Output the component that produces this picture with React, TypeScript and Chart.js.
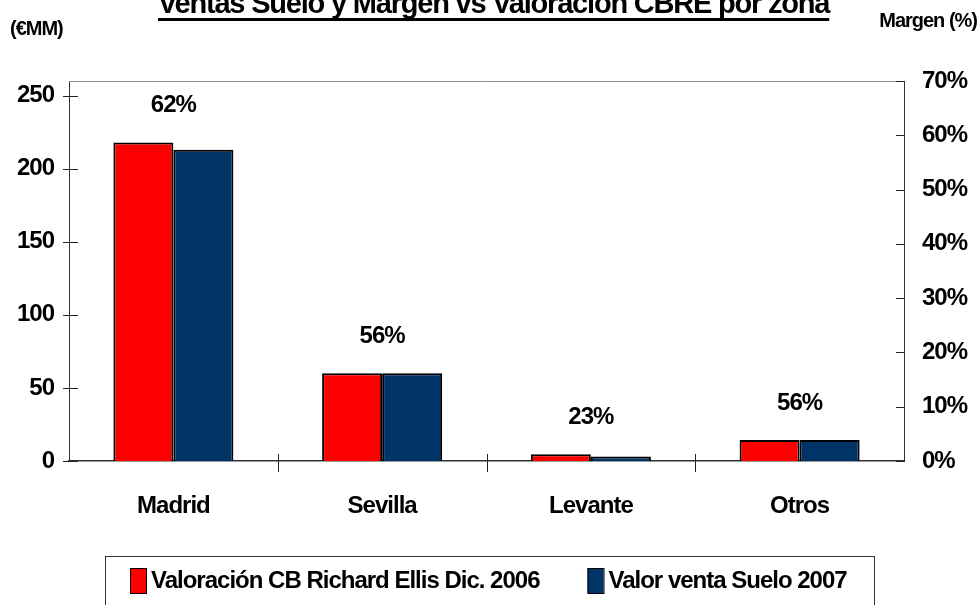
import React, { useEffect, useRef } from 'react';
import { Chart, registerables } from 'chart.js';

Chart.register(...registerables);

// ---- data ----
const categories = ['Madrid', 'Sevilla', 'Levante', 'Otros'];
const valoracionCBRE2006 = [218, 60, 4.7, 14.3];
const valorVentaSuelo2007 = [213, 60, 3.1, 14.3];
const margenPct = [62, 56, 23, 56];
const seriesLabels = ['Valoración CB Richard Ellis Dic. 2006', 'Valor venta Suelo 2007'];
const seriesColors = ['#FF0000', '#003366'];
const leftAxisMax = 260;
const leftAxisStep = 50;
const rightAxisMax = 70;
const rightAxisStep = 10;
const titleText = 'Ventas Suelo y Margen vs Valoración CBRE por zona';
const leftAxisTitle = '(€MM)';
const rightAxisTitle = 'Margen (%)';

const FONT = '"Liberation Sans", Arial, sans-serif';

const spacingPlugin = {
  id: 'spacing',
  beforeUpdate(chart: any) {
    chart.ctx.letterSpacing = '-1px';
  },
  beforeDraw(chart: any) {
    chart.ctx.letterSpacing = '-1px';
  },
};

const decorPlugin = {
  id: 'decor',
  afterDraw(chart: any) {
    const ctx = chart.ctx as CanvasRenderingContext2D;
    const { left, right, top, bottom } = chart.chartArea;
    const xs = chart.scales.x;
    const yL = chart.scales.y;
    const yR = chart.scales.y1;
    const line = (x1: number, y1: number, x2: number, y2: number) => {
      ctx.beginPath();
      ctx.moveTo(x1, y1);
      ctx.lineTo(x2, y2);
      ctx.stroke();
    };
    ctx.save();
    (ctx as any).letterSpacing = '-1px';

    // plot area top border
    ctx.strokeStyle = '#8c8c8c';
    ctx.lineWidth = 1;
    line(left, Math.round(top) + 0.5, right, Math.round(top) + 0.5);

    // axis tick marks
    ctx.strokeStyle = '#222';
    ctx.lineWidth = 1;
    yL.ticks.forEach((t: any) => {
      const py = Math.round(yL.getPixelForValue(t.value)) + 0.5;
      line(left - 6, py, left + 9, py);
    });
    yR.ticks.forEach((t: any) => {
      const py = Math.round(yR.getPixelForValue(t.value)) + 0.5;
      line(right - 8, py, right + 1, py);
    });
    for (let i = 1; i < categories.length; i++) {
      const px = Math.round((xs.getPixelForValue(i - 1) + xs.getPixelForValue(i)) / 2) + 0.5;
      line(px, bottom - 7, px, bottom + 11);
    }

    // margin labels above each group
    ctx.fillStyle = '#000';
    ctx.font = `bold 24px ${FONT}`;
    ctx.textAlign = 'center';
    ctx.textBaseline = 'alphabetic';
    categories.forEach((_, i) => {
      const topVal = Math.max(valoracionCBRE2006[i], valorVentaSuelo2007[i]);
      const px = xs.getPixelForValue(i);
      const py = yL.getPixelForValue(topVal) - 30;
      ctx.fillText(`${margenPct[i]}%`, px, py);
    });

    // title
    ctx.textAlign = 'left';
    ctx.font = `bold 29px ${FONT}`;
    (ctx as any).letterSpacing = '-1.2px';
    ctx.fillText(titleText, 158, 13);
    const tw = ctx.measureText(titleText).width;
    ctx.fillRect(158, 18, tw, 3);

    // axis titles
    (ctx as any).letterSpacing = '-1px';
    ctx.font = `bold 20px ${FONT}`;
    ctx.fillText(leftAxisTitle, 10, 35);
    ctx.textAlign = 'right';
    ctx.fillText(rightAxisTitle, 977, 27);

    // legend
    ctx.strokeStyle = '#333';
    ctx.lineWidth = 1;
    ctx.strokeRect(105.5, 556.5, 769, 70);
    ctx.font = `bold 24px ${FONT}`;
    ctx.textAlign = 'left';
    let lx = 130;
    chart.data.datasets.forEach((ds: any) => {
      ctx.fillStyle = ds.backgroundColor;
      ctx.fillRect(lx, 568, 16, 25);
      ctx.strokeStyle = '#000';
      ctx.strokeRect(lx + 0.5, 568.5, 16, 25);
      ctx.fillStyle = '#000';
      ctx.fillText(ds.label, lx + 21, 588);
      lx += 21 + ctx.measureText(ds.label).width + 48;
    });
    ctx.restore();
  },
};

export default function App() {
  const ref = useRef<HTMLCanvasElement>(null);
  useEffect(() => {
    if (!ref.current) return;
    const tickFont = { family: FONT, size: 24, weight: 'bold' as const };
    const chart = new Chart(ref.current, {
      type: 'bar',
      data: {
        labels: categories,
        datasets: [
          {
            label: seriesLabels[0],
            data: valoracionCBRE2006,
            backgroundColor: seriesColors[0],
            borderColor: '#000',
            borderWidth: 2,
            yAxisID: 'y',
          },
          {
            label: seriesLabels[1],
            data: valorVentaSuelo2007,
            backgroundColor: seriesColors[1],
            borderColor: '#000',
            borderWidth: 2,
            yAxisID: 'y',
          },
        ],
      },
      options: {
        animation: false,
        responsive: false,
        layout: { padding: { top: 81, bottom: 64, left: 0, right: 0 } },
        plugins: {
          legend: { display: false },
          title: { display: false },
          tooltip: { enabled: false },
        },
        datasets: { bar: { categoryPercentage: 0.575, barPercentage: 1 } },
        scales: {
          x: {
            grid: { display: false, drawTicks: false },
            border: { display: true, color: '#333', width: 1.5 },
            ticks: { font: tickFont, color: '#000', padding: 31, maxRotation: 0, autoSkip: false },
            afterFit: (s: any) => {
              s.height = 80;
            },
          },
          y: {
            position: 'left',
            min: 0,
            max: leftAxisMax,
            grid: { display: false, drawTicks: false },
            border: { display: true, color: '#333', width: 1 },
            ticks: { stepSize: leftAxisStep, includeBounds: false, font: tickFont, color: '#000', padding: 15 },
            afterFit: (s: any) => {
              s.width = 69;
            },
          },
          y1: {
            position: 'right',
            min: 0,
            max: rightAxisMax,
            grid: { display: false, drawTicks: false },
            border: { display: true, color: '#333', width: 1 },
            ticks: {
              stepSize: rightAxisStep,
              font: tickFont,
              color: '#000',
              padding: 18,
              callback: (v: any) => `${v}%`,
            },
            afterFit: (s: any) => {
              s.width = 75;
            },
          },
        },
      } as any,
      plugins: [spacingPlugin, decorPlugin],
    });
    return () => chart.destroy();
  }, []);
  return (
    <div style={{ position: 'fixed', left: 0, top: 0, width: 979, height: 605, background: '#fff' }}>
      <canvas ref={ref} width={979} height={605} style={{ display: 'block' }} />
    </div>
  );
}
